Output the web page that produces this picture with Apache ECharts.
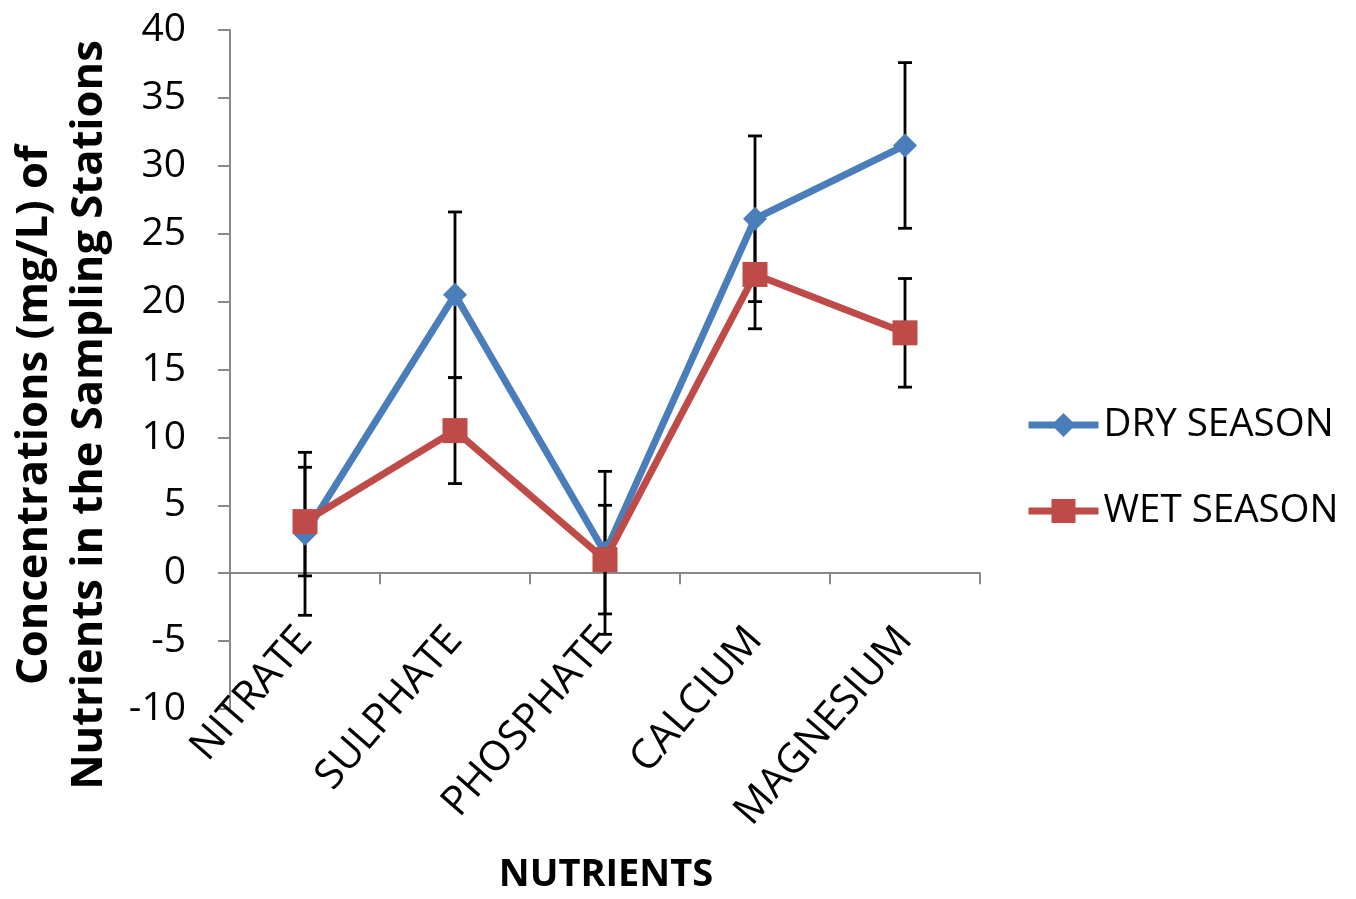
<!DOCTYPE html>
<html>
<head>
<meta charset="utf-8">
<script src="https://cdn.jsdelivr.net/npm/echarts@6/dist/echarts.min.js"></script>
<style>html,body{margin:0;padding:0;background:#fff;}#c{width:1356px;height:899px;}</style>
</head>
<body>
<div id="c"></div>
<script>
const categories = ['NITRATE', 'SULPHATE', 'PHOSPHATE', 'CALCIUM', 'MAGNESIUM'];
const dryValues = [2.9, 20.5, 1.5, 26.1, 31.5];
const dryErrors = [6.0, 6.1, 6.0, 6.1, 6.1];
const wetValues = [3.8, 10.5, 1.0, 22.0, 17.7];
const wetErrors = [4.0, 3.9, 4.0, 4.0, 4.0];
const yTicks = { min: -10, max: 40, interval: 5 };
const seriesNames = ['DRY SEASON', 'WET SEASON'];

const FONT = '"Open Sans", sans-serif';
const chart = echarts.init(document.getElementById('c'), null, { renderer: 'canvas' });

function errData(vals, errs) {
  return vals.map((v, i) => [i, v - errs[i], v + errs[i]]);
}
function errRender(params, api) {
  const i = api.value(0);
  const lo = api.coord([i, api.value(1)]);
  const hi = api.coord([i, api.value(2)]);
  const w = 7;
  const style = { stroke: '#000', lineWidth: 2.8 };
  return {
    type: 'group',
    children: [
      { type: 'line', shape: { x1: lo[0], y1: lo[1], x2: hi[0], y2: hi[1] }, style },
      { type: 'line', shape: { x1: lo[0] - w, y1: lo[1], x2: lo[0] + w, y2: lo[1] }, style },
      { type: 'line', shape: { x1: hi[0] - w, y1: hi[1], x2: hi[0] + w, y2: hi[1] }, style }
    ]
  };
}

const option = {
  backgroundColor: '#fff',
  animation: false,
  grid: { left: 230, top: 30, right: 376, bottom: 190, containLabel: false, outerBoundsMode: 'none' },
  legend: {
    orient: 'vertical',
    left: 1025,
    top: 404,
    padding: 0,
    itemWidth: 70,
    itemHeight: 30,
    itemGap: 44,
    data: seriesNames,
    lineStyle: { width: 7 },
    textStyle: { fontFamily: FONT, fontSize: 38.5, color: '#000', lineHeight: 42, padding: [0, 0, 0, 0] }
  },
  xAxis: {
    type: 'category',
    data: categories,
    boundaryGap: true,
    axisLine: { onZero: true, lineStyle: { color: '#898989', width: 2 } },
    axisTick: { show: true, length: 11, lineStyle: { color: '#898989', width: 2 } },
    axisLabel: { rotate: 49, margin: -76, fontFamily: FONT, fontSize: 41, color: '#000', interval: 0 },
    splitLine: { show: false }
  },
  yAxis: {
    type: 'value',
    min: yTicks.min,
    max: yTicks.max,
    interval: yTicks.interval,
    axisLine: { show: true, lineStyle: { color: '#898989', width: 2 } },
    axisTick: { show: true, length: 12, lineStyle: { color: '#898989', width: 2 } },
    axisLabel: { margin: 44, fontFamily: FONT, fontSize: 39, color: '#000' },
    splitLine: { show: false }
  },
  graphic: [
    {
      type: 'text',
      x: 62, y: 415,
      rotation: Math.PI / 2,
      style: {
        text: 'Concentrations (mg/L) of\nNutrients in the Sampling Stations',
        fontFamily: FONT, fontWeight: 'bold', fontSize: 43.5, lineHeight: 55,
        fill: '#000', align: 'center', verticalAlign: 'middle'
      }
    },
    {
      type: 'text',
      x: 606, y: 875,
      style: {
        text: 'NUTRIENTS', fontFamily: FONT, fontWeight: 'bold', fontSize: 38,
        fill: '#000', align: 'center', verticalAlign: 'middle'
      }
    }
  ],
  series: [
    { type: 'custom', name: 'dryErr', data: errData(dryValues, dryErrors), renderItem: errRender, z: 1, silent: true },
    { type: 'custom', name: 'wetErr', data: errData(wetValues, wetErrors), renderItem: errRender, z: 1, silent: true },
    {
      type: 'line', name: seriesNames[0], data: dryValues, z: 3,
      symbol: 'diamond', symbolSize: 24,
      lineStyle: { color: '#4A7EBB', width: 7 },
      itemStyle: { color: '#4A7EBB' }
    },
    {
      type: 'line', name: seriesNames[1], data: wetValues, z: 4,
      symbol: 'rect', symbolSize: 25,
      lineStyle: { color: '#BE4B48', width: 7 },
      itemStyle: { color: '#BE4B48' }
    }
  ]
};
chart.setOption(option);
</script>
</body>
</html>
